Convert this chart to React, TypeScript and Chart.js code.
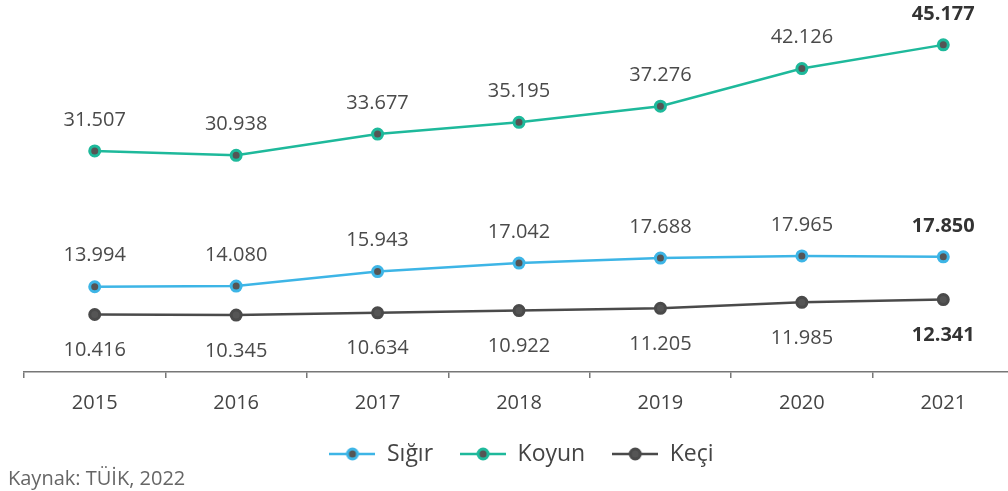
import React, { useEffect, useRef } from "react";
import { Chart, registerables } from "chart.js";

Chart.register(...registerables);

const categories = ["2015", "2016", "2017", "2018", "2019", "2020", "2021"];
const sigirValues = [13994, 14080, 15943, 17042, 17688, 17965, 17850];
const koyunValues = [31507, 30938, 33677, 35195, 37276, 42126, 45177];
const keciValues = [10416, 10345, 10634, 10922, 11205, 11985, 12341];
const seriesNames = ["Sığır", "Koyun", "Keçi"];
const seriesColors = ["#3db5e6", "#1eb99b", "#4a4a4a"];
const labelOffsets = [-31, -31, 36];
const caption = "Kaynak: TÜİK, 2022";
const FONT = "'Open Sans', 'DejaVu Sans', sans-serif";

function fmt(v: number): string {
  return String(v).replace(/\B(?=(\d{3})+(?!\d))/g, ".");
}

function makeLegendImage(color: string): HTMLCanvasElement {
  const c = document.createElement("canvas");
  c.width = 46;
  c.height = 16;
  const ctx = c.getContext("2d")!;
  ctx.strokeStyle = color;
  ctx.lineWidth = 2.5;
  ctx.beginPath();
  ctx.moveTo(0, 8);
  ctx.lineTo(46, 8);
  ctx.stroke();
  ctx.beginPath();
  ctx.arc(23, 8, 5, 0, Math.PI * 2);
  ctx.fillStyle = "#555555";
  ctx.fill();
  ctx.lineWidth = 3;
  ctx.strokeStyle = color;
  ctx.stroke();
  return c;
}

const valueLabelPlugin = {
  id: "valueLabels",
  afterDatasetsDraw(chart: any) {
    const ctx = chart.ctx;
    ctx.save();
    ctx.textAlign = "center";
    ctx.textBaseline = "middle";
    chart.data.datasets.forEach((ds: any, di: number) => {
      const meta = chart.getDatasetMeta(di);
      meta.data.forEach((pt: any, i: number) => {
        const last = i === ds.data.length - 1;
        ctx.font = `${last ? "bold " : ""}20px ${FONT}`;
        ctx.fillStyle = last ? "#333333" : "#4a4a4a";
        ctx.fillText(fmt(ds.data[i]), pt.x, pt.y + labelOffsets[di]);
      });
    });
    ctx.restore();
  },
};

export default function App() {
  const ref = useRef<HTMLCanvasElement>(null);
  useEffect(() => {
    if (!ref.current) return;
    const allValues = [sigirValues, koyunValues, keciValues];
    const legendImgs = seriesColors.map(makeLegendImage);
    const chart = new Chart(ref.current, {
      type: "line",
      data: {
        labels: categories,
        datasets: allValues.map((vals, i) => ({
          label: seriesNames[i],
          data: vals,
          borderColor: seriesColors[i],
          backgroundColor: "#555555",
          borderWidth: 2.5,
          pointRadius: 5,
          pointBorderWidth: 3,
          pointBorderColor: seriesColors[i],
          pointBackgroundColor: "#555555",
          tension: 0,
        })),
      },
      options: {
        animation: false,
        responsive: false,
        layout: { padding: { left: 21, right: 0, top: 0, bottom: 15.5 } },
        scales: {
          x: {
            type: "category",
            offset: true,
            grid: {
              display: true,
              drawOnChartArea: false,
              drawTicks: true,
              tickLength: 6,
              color: "#777777",
              lineWidth: 1.5,
              offset: true,
            },
            border: { display: true, color: "#777777", width: 1.5 },
            ticks: {
              padding: 13,
              color: "#444444",
              font: { family: FONT, size: 20 },
            },
            afterFit: (scale: any) => {
              scale.height = 43.5;
            },
          },
          y: {
            min: 3000,
            max: 49930,
            display: true,
            grid: { display: false },
            border: { display: false },
            ticks: { display: false },
            afterFit: (scale: any) => {
              scale.width = 3;
            },
          },
        },
        plugins: {
          tooltip: { enabled: false },
          legend: {
            position: "bottom",
            labels: {
              usePointStyle: true,
              pointStyleWidth: 46,
              padding: 27,
              color: "#444444",
              font: { family: FONT, size: 23 },
              generateLabels: (c: any) => {
                const items = (Chart.defaults.plugins.legend.labels as any).generateLabels(c);
                return items.map((it: any, i: number) => ({ ...it, pointStyle: legendImgs[i] }));
              },
            },
          },
        },
      },
      plugins: [valueLabelPlugin],
    } as any);
    return () => chart.destroy();
  }, []);
  return (
    <div style={{ position: "fixed", left: 0, top: 0, width: 1008, height: 491, overflow: "hidden", background: "#fff" }}>
      <canvas ref={ref} width={1022} height={491} style={{ display: "block" }} />
      <div
        style={{
          position: "absolute",
          left: 8,
          top: 466,
          fontFamily: FONT,
          fontSize: 20,
          lineHeight: "24px",
          color: "#666666",
          whiteSpace: "nowrap",
        }}
      >
        {caption}
      </div>
    </div>
  );
}
